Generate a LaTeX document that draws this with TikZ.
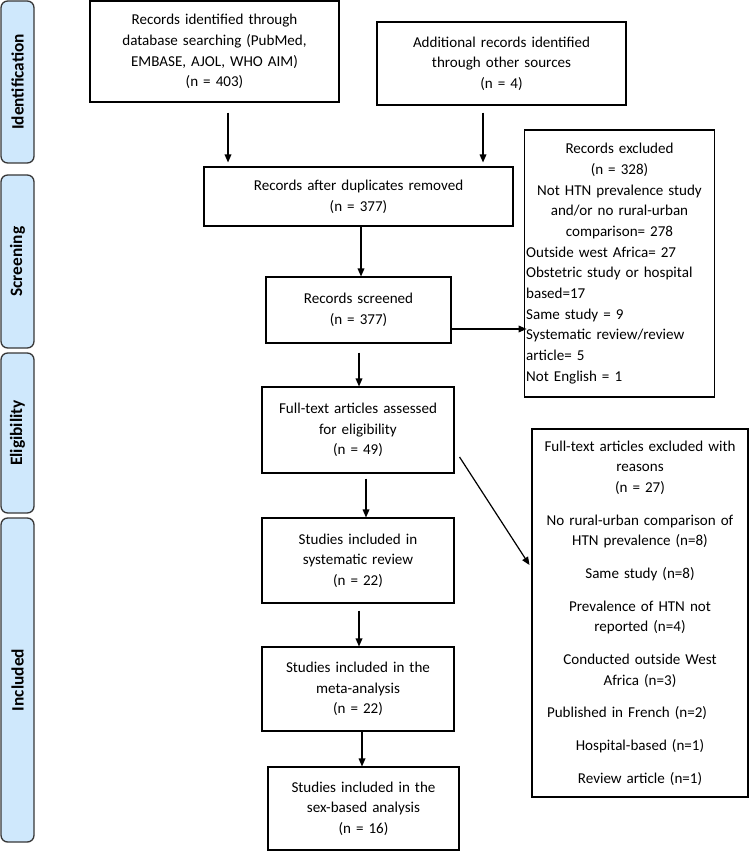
\documentclass[tikz,border=0pt]{standalone}
\usepackage{fontspec}
\setmainfont{Carlito}
\usepackage{tikz}
\usetikzlibrary{arrows.meta,calc}

\definecolor{phasefill}{RGB}{207,232,252}
\definecolor{phaseline}{RGB}{55,55,55}

\begin{document}
\begin{tikzpicture}[x=0.75pt,y=-0.75pt,
  font=\fontsize{11.3}{15.5}\selectfont,
  box/.style={draw=black,line width=0.8pt,align=center,inner sep=1.5pt},
  phasebar/.style={draw=phaseline,fill=phasefill,line width=1pt,rounded corners=5pt,
    rotate=90,minimum height=24.75pt,inner sep=0pt,
    font=\fontsize{13}{15.5}\selectfont\bfseries},
  arr/.style={-{Triangle[length=6pt,width=5pt]},line width=0.9pt}]
  \useasboundingbox (0,0) rectangle (750,852);

  % Fases (barras de la izquierda)
  \node[phasebar,minimum width=121.5pt] (ident) at (17.5,82) {Identification};
  \node[phasebar,minimum width=129.75pt] (scrn) at (17.5,261.5) {Screening};
  \node[phasebar,minimum width=120pt] (elig) at (17.5,433) {Eligibility};
  \node[phasebar,minimum width=243pt] (incl) at (17.5,680) {Included};

  % Cajas principales
  \node[box,text width=183.75pt,minimum height=75.75pt] (idb) at (214.5,51.5)
    {Records identified through\\database searching (PubMed,\\EMBASE, AJOL, WHO AIM)\\(n = 403)};
  \node[box,text width=183.75pt,minimum height=62.25pt] (oth) at (501.5,63.5)
    {Additional records identified\\through other sources\\(n = 4)};
  \node[box,text width=228.75pt,minimum height=44.25pt] (dup) at (358.5,196.5)
    {Records after duplicates removed\\(n = 377)};
  \node[box,text width=135.75pt,minimum height=49.5pt] (scr) at (358.5,310)
    {Records screened\\(n = 377)};
  \node[box,text width=141pt,minimum height=64.5pt] (ful) at (358,430)
    {Full-text articles assessed\\for eligibility\\(n = 49)};
  \node[box,text width=141pt,minimum height=63.75pt] (rev) at (358,560.5)
    {Studies included in\\systematic review\\(n = 22)};
  \node[box,text width=141pt,minimum height=63pt] (met) at (358,689)
    {Studies included in the\\meta-analysis\\(n = 22)};
  \node[box,text width=140.25pt,minimum height=62.25pt] (sex) at (363.5,808.5)
    {Studies included in the\\sex-based analysis\\(n = 16)};

  % Cajas de exclusiones
  \node[box,text width=140pt,minimum height=200.25pt] (exc) at (619.5,263.5)
    {Records excluded\\(n = 328)\\Not HTN prevalence study\\and/or no rural-urban\\comparison= 278\\
     \makebox[140pt][l]{Outside west Africa= 27}\\
     \makebox[140pt][l]{Obstetric study or hospital}\\
     \makebox[140pt][l]{based=17}\\
     \makebox[140pt][l]{Same study = 9}\\
     \makebox[140pt][l]{Systematic review/review}\\
     \makebox[140pt][l]{article= 5}\\
     \makebox[140pt][l]{Not English = 1}};
  \node[box,text width=159pt,minimum height=276pt] (fex) at (640,613)
    {Full-text articles excluded with\\reasons\\(n = 27)\\[9pt]
     No rural-urban comparison of\\HTN prevalence (n=8)\\[9pt]
     Same study (n=8)\\[9pt]
     Prevalence of HTN not\\reported (n=4)\\[9pt]
     Conducted outside West\\Africa (n=3)\\[9pt]
     \makebox[159pt][l]{\hspace{9.75pt}Published in French (n=2)}\\[9pt]
     Hospital-based (n=1)\\[9pt]
     Review article (n=1)};

  % Flechas
  \draw[arr] ($(idb.south)+(13.5,10)$) -- ($(idb.south |- dup.north)+(13.5,-4)$);
  \draw[arr] ($(oth.south)+(-18.5,7)$) -- ($(oth.south |- dup.north)+(-18.5,-4)$);
  \draw[arr] ($(dup.south)+(2.5,0)$) -- ($(dup.south |- scr.north)+(2.5,0)$);
  \draw[arr] ($(scr.east)+(0,19)$) -- ($(scr.east -| exc.west)+(3,19)$);
  \draw[arr] ($(scr.south)+(0.5,9)$) -- ($(scr.south |- ful.north)+(0.5,0)$);
  \draw[arr] ($(ful.south)+(8,5)$) -- ($(ful.south |- rev.north)+(8,0)$);
  \draw[arr] ($(rev.south)+(1,7)$) -- ($(rev.south |- met.north)+(1,0)$);
  \draw[arr] ($(met.south)+(4,0)$) -- ($(met.south |- sex.north)+(4,0)$);
  \draw[arr] ($(ful.east)+(5,27)$) -- ($(fex.west)+(-2,-48)$);
\end{tikzpicture}
\end{document}
